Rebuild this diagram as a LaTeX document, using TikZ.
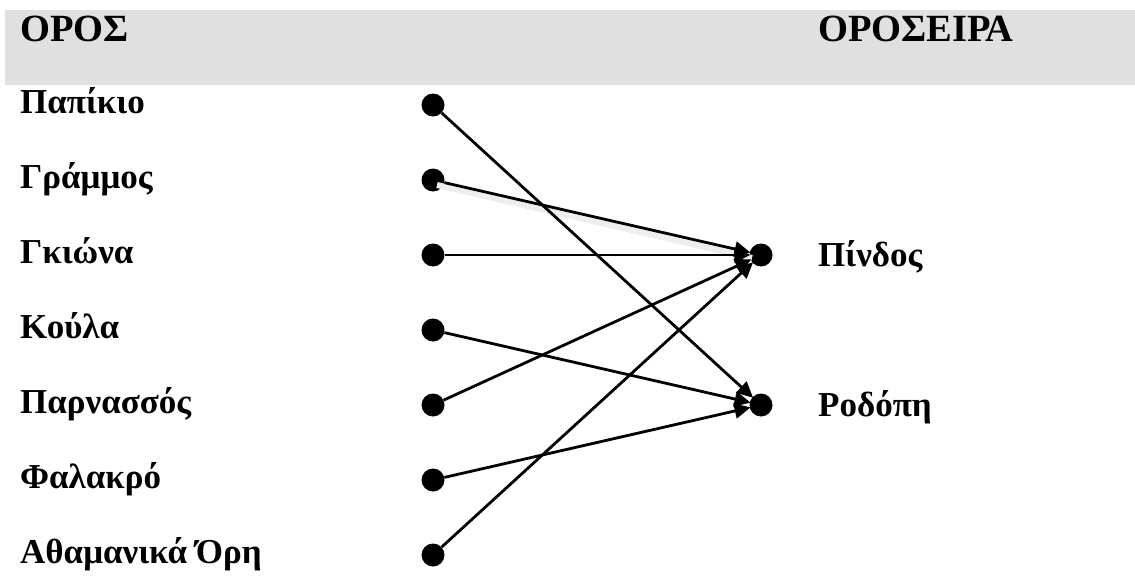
\documentclass[tikz,border=0pt]{standalone}
\usepackage{fontspec}
\setmainfont{Liberation Serif}
\usetikzlibrary{arrows.meta}
\definecolor{band}{RGB}{224,224,224}
\definecolor{halo}{RGB}{238,238,238}
\tikzset{
  dot/.style={circle,fill=black,inner sep=0pt,minimum size=23pt},
  lbl/.style={anchor=base west,inner sep=0pt,font=\fontsize{35}{40}\selectfont\bfseries},
  hdr/.style={anchor=base west,inner sep=0pt,font=\fontsize{38.5}{44}\selectfont\bfseries},
  arr/.style={line width=2.8pt,-{Triangle[length=16pt,width=15pt]},shorten >=-1pt},
}
\begin{document}
\begin{tikzpicture}[x=1pt,y=-1pt]
\useasboundingbox (0,0) rectangle (1135,578);
\fill[band] (5,10) rectangle (1135,85);
\node[hdr] (h1) at (20,42) {ΟΡΟΣ};
\node[hdr] (h2) at (818,42) {ΟΡΟΣΕΙΡΑ};
% left labels
\node[lbl] (t1) at (20,113) {Παπίκιο};
\node[lbl] (t2) at (20,188) {Γράμμος};
\node[lbl] (t3) at (20,263) {Γκιώνα};
\node[lbl] (t4) at (20,338) {Κούλα};
\node[lbl] (t5) at (20,413) {Παρνασσός};
\node[lbl] (t6) at (20,488) {Φαλακρό};
\node[lbl] (t7) at (20,563) {Αθαμανικά Όρη};
% right labels
\node[lbl] (p) at (818,266) {Πίνδος};
\node[lbl] (r) at (818,416) {Ροδόπη};
% dots
\node[dot] (l1) at (433,105) {};
\node[dot] (l2) at (433,180) {};
\node[dot] (l3) at (433,255) {};
\node[dot] (l4) at (433,330) {};
\node[dot] (l5) at (433,405) {};
\node[dot] (l6) at (433,480) {};
\node[dot] (l7) at (433,555) {};
\node[dot] (rp) at (761,255) {};
\node[dot] (rr) at (761,405) {};
% light halo under the Grammos connector
\coordinate (g0) at (437,185);
\coordinate (g1) at (752,258);
\draw[halo,line width=6pt] (g0) -- (g1);
% connectors
\draw[arr] (l1) -- (rr);
\draw[arr] (l2) -- (rp);
\draw[arr] (l3) -- (rp);
\draw[arr] (l4) -- (rr);
\draw[arr] (l5) -- (rp);
\draw[arr] (l6) -- (rr);
\draw[arr] (l7) -- (rp);
\end{tikzpicture}
\end{document}
